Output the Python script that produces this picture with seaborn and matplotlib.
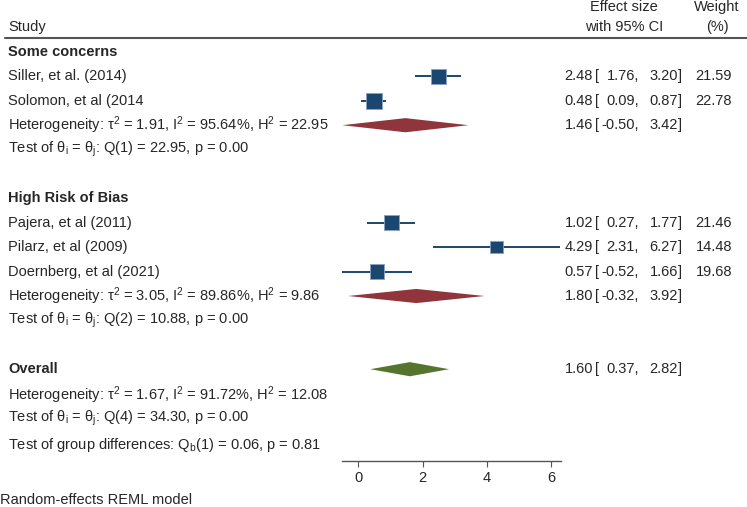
import matplotlib
matplotlib.use("Agg")
import matplotlib.pyplot as plt
import matplotlib.transforms as mtransforms
import seaborn as sns
import pandas as pd

# данные исследований
studies = ["Siller, et al. (2014)", "Solomon, et al (2014", "Pajera, et al (2011)",
           "Pilarz, et al (2009)", "Doernberg, et al (2021)"]
effect = [2.48, 0.48, 1.02, 4.29, 0.57]
lower = [1.76, 0.09, 0.27, 2.31, -0.52]
upper = [3.20, 0.87, 1.77, 6.27, 1.66]
weight = [21.59, 22.78, 21.46, 14.48, 19.68]
study_rows = [2, 3, 8, 9, 10]

# подгруппы
groups = ["Some concerns", "High Risk of Bias"]
group_rows = [1, 7]
sub_effect = [1.46, 1.80]
sub_lower = [-0.50, -0.32]
sub_upper = [3.42, 3.92]
sub_rows = [4, 11]
het_text = [
    r"Heterogeneity: τ$^{2}$ = 1.91, I$^{2}$ = 95.64%, H$^{2}$ = 22.95",
    r"Heterogeneity: τ$^{2}$ = 3.05, I$^{2}$ = 89.86%, H$^{2}$ = 9.86",
]
test_text = [
    r"Test of θ$_{i}$ = θ$_{j}$: Q(1) = 22.95, p = 0.00",
    r"Test of θ$_{i}$ = θ$_{j}$: Q(2) = 10.88, p = 0.00",
]
test_rows = [5, 12]

# общий итог
overall_effect = 1.60
overall_lower = 0.37
overall_upper = 2.82
overall_row = 14
overall_het = r"Heterogeneity: τ$^{2}$ = 1.67, I$^{2}$ = 91.72%, H$^{2}$ = 12.08"
overall_test = r"Test of θ$_{i}$ = θ$_{j}$: Q(4) = 34.30, p = 0.00"
group_test = r"Test of group differences: Q$_{b}$(1) = 0.06, p = 0.81"
xticks = [0, 2, 4, 6]

NAVY = "#1A476F"
MAROON = "#90353B"
GREEN = "#55752F"
FS = 10.5

sns.set_theme(style="white")
plt.rcParams["font.family"] = ["Liberation Sans", "DejaVu Sans"]
plt.rcParams["mathtext.fontset"] = "custom"
plt.rcParams["mathtext.rm"] = "Liberation Sans"
plt.rcParams["mathtext.it"] = "Liberation Sans"

W, H = 747, 507
fig = plt.figure(figsize=(W / 100, H / 100), dpi=100)
ax = fig.add_axes([341.7 / W, 1 - 461 / H, 219 / W, (461 - 40) / H])

row_top = 1 + (40 - 52) / 24.4
row_bot = 1 + (461 - 52) / 24.4
ax.set_ylim(row_bot, row_top)
ax.set_xlim(-0.52, 6.29)

df = pd.DataFrame({"study": studies, "effect": effect, "lower": lower,
                   "upper": upper, "weight": weight, "row": study_rows})

# доверительные интервалы
ax.hlines(df["row"], df["lower"], df["upper"], color=NAVY, lw=1.4, zorder=2)
sns.scatterplot(data=df, x="effect", y="row", size="weight", sizes=(78, 123),
                size_norm=(14.48, 22.78), marker="s", color=NAVY,
                edgecolor="#8aa3bf", linewidth=0.6, legend=False, ax=ax, zorder=3)


def diamond(est, lo, hi, row, color):
    h = 0.29
    ax.fill([lo, est, hi, est], [row, row - h, row, row + h], color=color,
            lw=0, zorder=3)


for e, lo, hi, r in zip(sub_effect, sub_lower, sub_upper, sub_rows):
    diamond(e, lo, hi, r, MAROON)
diamond(overall_effect, overall_lower, overall_upper, overall_row, GREEN)

# оси
for s in ["top", "left", "right"]:
    ax.spines[s].set_visible(False)
ax.spines["bottom"].set_color("#555555")
ax.spines["bottom"].set_linewidth(1.0)
ax.set_yticks([])
ax.set_xticks(xticks)
ax.tick_params(axis="x", direction="out", length=4, width=0.8, color="#555555",
               labelsize=FS, pad=3, bottom=True)
ax.set_xlabel("")
ax.set_ylabel("")

tr = mtransforms.blended_transform_factory(fig.transFigure, ax.transData)


def txt(xpx, row, s, ha="left", **kw):
    fig.text(xpx / W, row, s, transform=tr, ha=ha, va="center", fontsize=FS, **kw)


def ci_text(row, est, lo, hi, w=None):
    txt(593, row, f"{est:.2f}", ha="right")
    txt(595, row, "[")
    txt(639, row, f"{lo:.2f},", ha="right")
    txt(678, row, f"{hi:.2f}", ha="right")
    txt(678, row, "]")
    if w is not None:
        txt(732, row, f"{w:.2f}", ha="right")


# заголовок
fig.text(8 / W, 1 - 27 / H, "Study", ha="left", va="center", fontsize=FS)
fig.text(624 / W, 1 - 7 / H, "Effect size", ha="center", va="center", fontsize=FS)
fig.text(624 / W, 1 - 27 / H, "with 95% CI", ha="center", va="center", fontsize=FS)
fig.text(717 / W, 1 - 7 / H, "Weight", ha="center", va="center", fontsize=FS)
fig.text(717 / W, 1 - 27 / H, "(%)", ha="center", va="center", fontsize=FS)
fig.add_artist(plt.Line2D([5 / W, 1], [1 - 38 / H, 1 - 38 / H], color="#555555",
                          lw=1.5, transform=fig.transFigure))

for g, r in zip(groups, group_rows):
    txt(8, r, g, fontweight="bold")
for i, r in enumerate(study_rows):
    txt(8, r, studies[i])
    ci_text(r, effect[i], lower[i], upper[i], weight[i])
for i, r in enumerate(sub_rows):
    txt(8, r, het_text[i])
    ci_text(r, sub_effect[i], sub_lower[i], sub_upper[i])
for i, r in enumerate(test_rows):
    txt(8, r, test_text[i])

txt(8, overall_row, "Overall", fontweight="bold")
ci_text(overall_row, overall_effect, overall_lower, overall_upper)
txt(8, overall_row + 1.05, overall_het)
txt(8, overall_row + 2.0, overall_test)
txt(8, overall_row + 3.1, group_test)

fig.text(0, 1 - 500 / H, "Random-effects REML model", ha="left", va="center",
         fontsize=FS)

fig.savefig("out.png", dpi=100)
